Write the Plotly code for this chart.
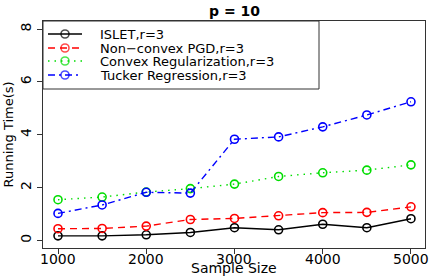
import plotly.graph_objects as go

sample_size = [1000, 1500, 2000, 2500, 3000, 3500, 4000, 4500, 5000]
islet = [0.17, 0.17, 0.21, 0.30, 0.48, 0.40, 0.61, 0.48, 0.82]
nonconvex_pgd = [0.44, 0.45, 0.54, 0.79, 0.83, 0.93, 1.05, 1.06, 1.27]
convex_reg = [1.54, 1.64, 1.83, 1.96, 2.13, 2.42, 2.56, 2.66, 2.86]
tucker_reg = [1.02, 1.34, 1.82, 1.79, 3.83, 3.92, 4.30, 4.75, 5.25]

names = ["ISLET,r=3", "Non\u2212convex PGD,r=3", "Convex Regularization,r=3", "Tucker Regression,r=3"]
series = [islet, nonconvex_pgd, convex_reg, tucker_reg]
colors = ["#000000", "#FF0000", "#00DD00", "#0000FF"]
dashes = ["solid", "7px,5px", "1.5px,5px", "7px,4px,2px,4px"]

x_ticks = [1000, 2000, 3000, 4000, 5000]
x_tick_labels = ["1000", "2000", "3000", "4000", "5000"]
y_ticks = [0, 2, 4, 6, 8]

FONT = "DejaVu Sans"

fig = go.Figure()
for name, ys, c, d in zip(names, series, colors, dashes):
    fig.add_trace(go.Scatter(
        x=sample_size, y=ys, mode="lines+markers", name=name,
        line=dict(color=c, width=1.4, dash=d),
        marker=dict(symbol="circle-open", size=8, color=c, line=dict(width=1.6, color=c)),
        showlegend=False, xaxis="x", yaxis="y"))

# manual legend (R-style box) on an overlay axis spanning [0,1]
W, H = 382, 227
def px_x(p):
    return p / W
def px_y(p):
    return 1 - p / H

legend_rows = [13, 27, 40, 54]
for i, (name, c, d) in enumerate(zip(names, colors, dashes)):
    yy = px_y(legend_rows[i])
    fig.add_trace(go.Scatter(
        x=[px_x(5), px_x(22), px_x(39)], y=[yy, yy, yy], mode="lines+markers",
        line=dict(color=c, width=1.4, dash=d),
        marker=dict(symbol="circle-open", size=[0, 8, 0], color=c, line=dict(width=1.6, color=c)),
        showlegend=False, xaxis="x2", yaxis="y2", hoverinfo="skip"))
    fig.add_annotation(x=px_x(55), y=yy, xref="x2", yref="y2", text=name,
                       showarrow=False, xanchor="left", yanchor="middle",
                       font=dict(family=FONT, size=13, color="black"))

fig.add_shape(type="rect", xref="x2", yref="y2", x0=0, x1=px_x(276), y0=px_y(68), y1=1,
              line=dict(color="#333333", width=1), fillcolor="white", layer="below")

fig.update_layout(
    width=436, height=277,
    margin=dict(l=43, r=11, t=21, b=29),
    paper_bgcolor="white", plot_bgcolor="white",
    font=dict(family=FONT, size=14, color="black"),
    xaxis=dict(range=[830, 5159], tickvals=x_ticks, ticks="outside", ticklen=5,
               tickcolor="#333333", showline=True, linecolor="#333333", mirror=True,
               showgrid=False, zeroline=False, automargin=False, showticklabels=False),
    yaxis=dict(range=[-0.29, 8.31], tickvals=y_ticks, ticks="outside", ticklen=5,
               tickcolor="#333333", showline=True, linecolor="#333333", mirror=True,
               showgrid=False, zeroline=False, tickangle=-90, automargin=False,
               tickfont=dict(size=14)),
    xaxis2=dict(overlaying="x", range=[0, 1], visible=False, fixedrange=True),
    yaxis2=dict(overlaying="y", range=[0, 1], visible=False, fixedrange=True),
    showlegend=False,
)
for v, lab in zip(x_ticks, x_tick_labels):
    fig.add_annotation(x=v, y=0, xref="x", yref="paper", yshift=-11, text=lab,
                       showarrow=False, xanchor="center", yanchor="middle",
                       font=dict(family=FONT, size=14, color="black"))
fig.add_annotation(x=0.5, y=1, xref="paper", yref="paper", yshift=10, text="<b>p = 10</b>",
                   showarrow=False, xanchor="center", yanchor="middle",
                   font=dict(family=FONT, size=14, color="black"))
fig.add_annotation(x=0.5, y=0, xref="paper", yref="paper", yshift=-20, text="Sample Size",
                   showarrow=False, xanchor="center", yanchor="middle",
                   font=dict(family=FONT, size=14, color="black"))
fig.add_annotation(x=0, y=0.5, xref="paper", yref="paper", xshift=-35, text="Running Time(s)",
                   showarrow=False, xanchor="center", yanchor="middle", textangle=-90,
                   font=dict(family=FONT, size=13, color="black"))

fig.write_html("out.html", config={"displayModeBar": False},
               post_script="document.body.style.margin='0';document.body.style.overflow='hidden';")
